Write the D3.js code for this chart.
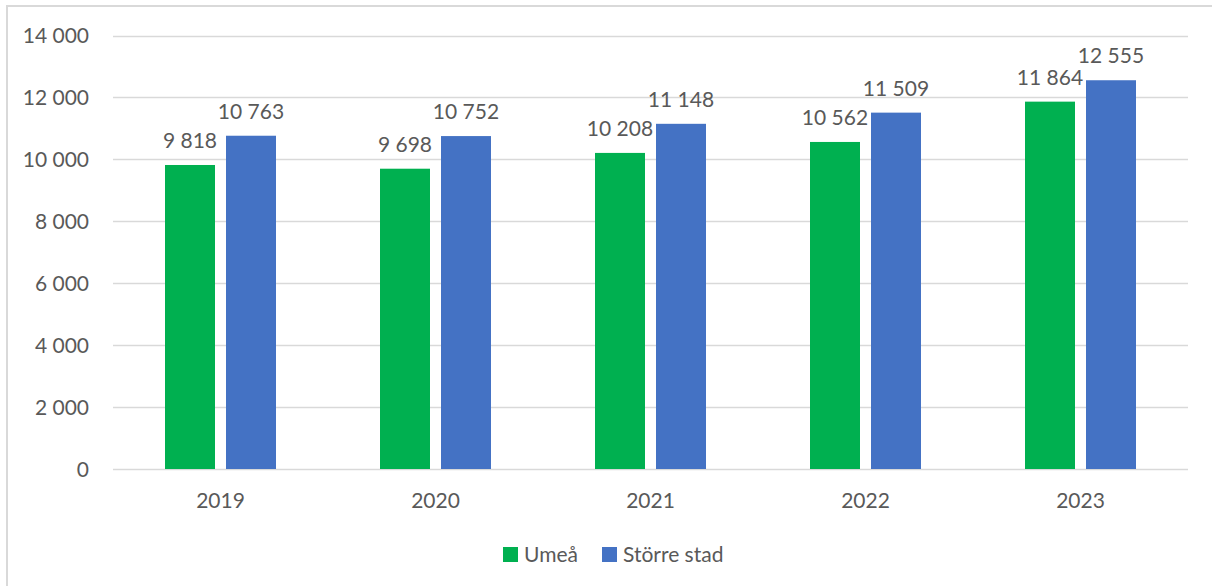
<!DOCTYPE html>
<html>
<head>
<meta charset="utf-8">
<script src="https://cdn.jsdelivr.net/npm/d3@7"></script>
<style>
  html, body { margin: 0; padding: 0; background: #fff; }
  svg { display: block; }
  text { font-family: Lato, "Open Sans", "Liberation Sans", sans-serif; fill: #595959; }
</style>
</head>
<body>
<svg id="chart" width="1212" height="586"></svg>
<script>
// Years on the x axis
const years = ["2019", "2020", "2021", "2022", "2023"];
// Series names
const seriesNames = ["Umeå", "Större stad"];
// Values per series, one per year
const umea = [9818, 9698, 10208, 10562, 11864];
const storreStad = [10763, 10752, 11148, 11509, 12555];
// Y axis ticks
const yTicks = [0, 2000, 4000, 6000, 8000, 10000, 12000, 14000];

const colors = ["#00B050", "#4472C4"];
const seriesValues = [umea, storreStad];
const fontSize = 21;

const svg = d3.select("#chart");
const W = 1212, H = 586;
const plot = { left: 113, right: 1188, top: 35.5, bottom: 469 };

const sv = d3.formatLocale({ decimal: ",", thousands: "\u00a0", grouping: [3], currency: ["", " kr"] });
const fmt = sv.format(",d");

// Outer frame (continues past the right and bottom edges)
svg.append("rect")
  .attr("x", 7).attr("y", 6)
  .attr("width", W + 20).attr("height", H + 20)
  .attr("fill", "#fff")
  .attr("stroke", "#D9D9D9").attr("stroke-width", 2);

const y = d3.scaleLinear().domain([0, 14000]).range([plot.bottom, plot.top]);
const x0 = d3.scaleBand().domain(years).range([plot.left, plot.right]).paddingInner(0).paddingOuter(0);
const groupWidth = 111;
const x1 = d3.scaleBand().domain(seriesNames)
  .range([(x0.bandwidth() - groupWidth) / 2, (x0.bandwidth() + groupWidth) / 2])
  .paddingInner(0.1803).paddingOuter(0);

// Gridlines
svg.append("g").selectAll("line").data(yTicks).join("line")
  .attr("x1", plot.left).attr("x2", plot.right)
  .attr("y1", d => Math.round(y(d)) + 0.5).attr("y2", d => Math.round(y(d)) + 0.5)
  .attr("stroke", "#D9D9D9").attr("stroke-width", 1.5);

// Y axis labels
const yAxis = d3.axisLeft(y).tickValues(yTicks).tickFormat(fmt).tickSize(0).tickPadding(0);
const gy = svg.append("g").attr("transform", `translate(89,0)`).call(yAxis);
gy.select(".domain").remove();
gy.selectAll("text").attr("font-size", fontSize).attr("fill", "#595959")
  .style("font-family", "Lato, 'Open Sans', sans-serif").attr("dy", "0.35em");

// Bars
const data = years.map((yr, i) => ({ year: yr, vals: seriesNames.map((s, j) => ({ s, j, v: seriesValues[j][i] })) }));
const groups = svg.append("g").selectAll("g").data(data).join("g")
  .attr("transform", d => `translate(${x0(d.year)},0)`);

groups.selectAll("rect").data(d => d.vals).join("rect")
  .attr("x", d => x1(d.s))
  .attr("y", d => y(d.v))
  .attr("width", x1.bandwidth())
  .attr("height", d => y(0) - y(d.v))
  .attr("fill", d => colors[d.j]);

// Value labels
groups.selectAll("text").data(d => d.vals).join("text")
  .attr("x", d => x1(d.s) + x1.bandwidth() / 2)
  .attr("y", d => y(d.v) - 17)
  .attr("text-anchor", "middle")
  .attr("font-size", fontSize)
  .text(d => fmt(d.v));

// X axis labels
const xAxis = d3.axisBottom(x0).tickSize(0).tickPadding(0);
const gx = svg.append("g").attr("transform", `translate(0,${plot.bottom})`).call(xAxis);
gx.select(".domain").remove();
gx.selectAll("text").attr("font-size", fontSize).attr("fill", "#595959")
  .style("font-family", "Lato, 'Open Sans', sans-serif").attr("dy", "0").attr("y", 39);

// Legend
const legendItems = [
  { name: seriesNames[0], color: colors[0], x: 503 },
  { name: seriesNames[1], color: colors[1], x: 602 }
];
const lg = svg.append("g").selectAll("g").data(legendItems).join("g")
  .attr("transform", d => `translate(${d.x},547)`);
lg.append("rect").attr("width", 15).attr("height", 15).attr("fill", d => d.color);
lg.append("text").attr("x", 21).attr("y", 15).attr("font-size", fontSize).text(d => d.name);
</script>
</body>
</html>
